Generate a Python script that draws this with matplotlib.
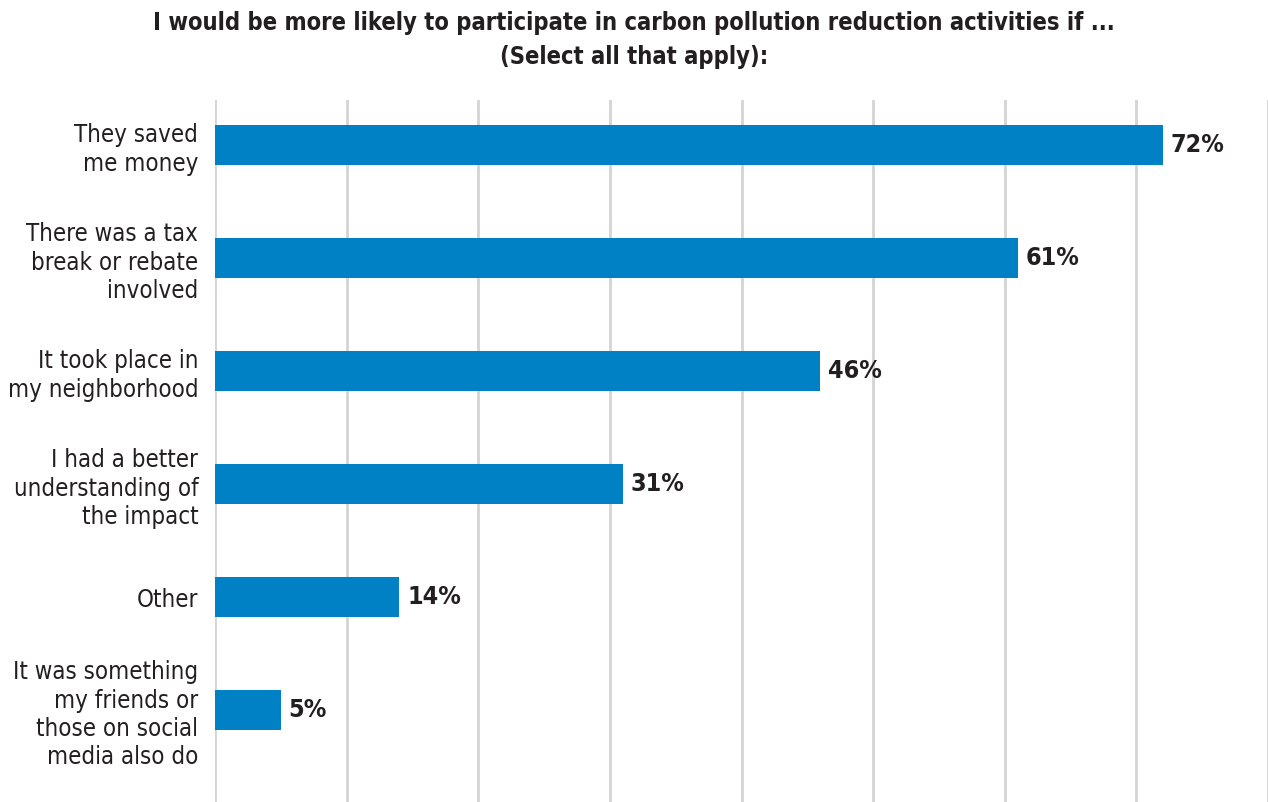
import numpy as np
import matplotlib.pyplot as plt

# survey responses, share of respondents (%)
labels = [
    "They saved\nme money",
    "There was a tax\nbreak or rebate\ninvolved",
    "It took place in\nmy neighborhood",
    "I had a better\nunderstanding of\nthe impact",
    "Other",
    "It was something\nmy friends or\nthose on social\nmedia also do",
]
values = [72, 61, 46, 31, 14, 5]
grid_ticks = [0, 10, 20, 30, 40, 50, 60, 70, 80]

title = ("I would be more likely to participate in carbon pollution reduction activities if ...\n"
         "(Select all that apply):")

bar_color = "#0081c6"
text_color = "#231f20"

plt.rcParams['font.family'] = ['DejaVu Sans']
plt.rcParams['font.stretch'] = 'condensed'

fig = plt.figure(figsize=(12.68, 8.02), dpi=100)
ax = fig.add_axes([215 / 1268, 0, 1 - 215 / 1268, 1 - 100 / 802])

y = np.arange(len(values))
ax.barh(y, values, height=0.354, color=bar_color, zorder=2)

for yi, v in zip(y, values):
    ax.text(v + 0.6, yi, f"{v}%", va="center", ha="left", fontsize=18,
            fontweight="bold", color=text_color)

ax.set_xlim(0, 80)
ax.set_ylim(5.814, -0.398)
ax.set_xticks(grid_ticks)
ax.xaxis.grid(True, color="#d4d4d4", linewidth=2, zorder=0)
ax.tick_params(axis="x", length=0, labelbottom=False)
ax.tick_params(axis="y", length=0, pad=12)
ax.set_yticks(y)
ax.set_yticklabels(labels, fontsize=17.2, color=text_color, linespacing=1.22)
for s in ax.spines.values():
    s.set_visible(False)

fig.text(0.5, 1 - 40 / 802, title, ha="center", va="center", fontsize=17,
         fontweight="bold", color=text_color, linespacing=1.55)

fig.savefig("out.png", dpi=100)
